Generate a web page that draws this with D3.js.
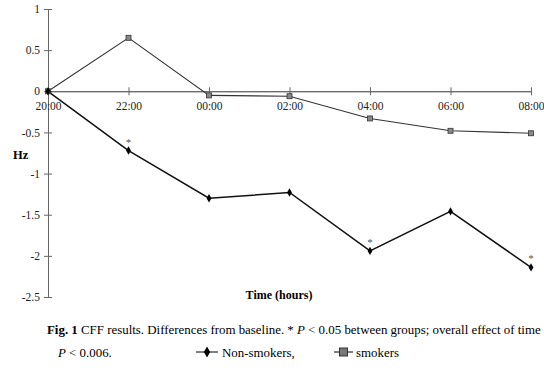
<!DOCTYPE html>
<html>
<head>
<meta charset="utf-8">
<script src="https://cdn.jsdelivr.net/npm/d3@7"></script>
<style>
  body { margin: 0; background: #fff; }
  svg, svg text { font-family: "Liberation Serif", "Times New Roman", serif; }
</style>
</head>
<body>
<svg id="chart" width="544" height="368"></svg>
<script>
const times = ["20:00", "22:00", "00:00", "02:00", "04:00", "06:00", "08:00"];
const nonSmokers = [0, -0.72, -1.30, -1.23, -1.94, -1.46, -2.14];
const smokers = [0, 0.65, -0.05, -0.06, -0.33, -0.48, -0.51];
const starred = ["22:00", "04:00", "08:00"];
const yTicks = [1, 0.5, 0, -0.5, -1, -1.5, -2, -2.5];

const serif = "'Liberation Serif', 'Times New Roman', serif";
const svg = d3.select("#chart");
const plotLeft = 48, plotRight = 531, plotTop = 9, plotBottom = 297;

const x = d3.scalePoint().domain(times).range([plotLeft, plotRight]);
const y = d3.scaleLinear().domain([-2.5, 1]).range([plotBottom, plotTop]);

// y axis
const yAxis = svg.append("g").attr("transform", `translate(${plotLeft},0)`)
  .call(d3.axisLeft(y).tickValues(yTicks).tickSize(0).tickPadding(8)
    .tickFormat(d => String(d)));
yAxis.attr("font-family", serif);
yAxis.select(".domain").attr("stroke", "#666");
yAxis.selectAll("text").attr("font-size", 11.5).attr("fill", "#222");
yAxis.selectAll(".tick").append("line")
  .attr("x1", -4).attr("x2", 4).attr("stroke", "#666");

// x axis at zero
const xAxis = svg.append("g").attr("transform", `translate(0,${y(0)})`)
  .call(d3.axisBottom(x).tickSize(0).tickPadding(11));
xAxis.attr("font-family", serif);
xAxis.select(".domain").attr("stroke", "#333");
xAxis.selectAll("text").attr("font-size", 11.5).attr("fill", "#222");
xAxis.selectAll(".tick").append("line")
  .attr("y1", -4).attr("y2", 4).attr("stroke", "#666");

const line = d3.line().x((d, i) => x(times[i])).y(d => y(d));

svg.append("path").datum(smokers).attr("d", line)
  .attr("fill", "none").attr("stroke", "#333").attr("stroke-width", 1.1);
svg.append("path").datum(nonSmokers).attr("d", line)
  .attr("fill", "none").attr("stroke", "#111").attr("stroke-width", 1.5);

svg.selectAll(".sq").data(smokers).enter().append("rect")
  .attr("x", (d, i) => x(times[i]) - 2.5).attr("y", d => y(d) - 2.5)
  .attr("width", 5).attr("height", 5)
  .attr("fill", "#888").attr("stroke", "#333").attr("stroke-width", 0.8);

const diamond = d3.symbol().type(d3.symbolDiamond).size(20);
svg.selectAll(".dm").data(nonSmokers).enter().append("path")
  .attr("d", diamond)
  .attr("transform", (d, i) => `translate(${x(times[i])},${y(d)})`)
  .attr("fill", "#000");

// significance stars
svg.selectAll(".star").data(starred).enter().append("text")
  .attr("x", d => x(d))
  .attr("y", d => y(nonSmokers[times.indexOf(d)]) - 5)
  .attr("text-anchor", "middle").attr("font-size", 11).attr("fill", "#555")
  .text("*");

svg.append("text").attr("x", 13).attr("y", 159)
  .attr("font-size", 12.5).attr("font-weight", "bold").text("Hz");

svg.append("text").attr("x", 279).attr("y", 299).attr("text-anchor", "middle")
  .attr("font-size", 12).attr("font-weight", "bold").text("Time (hours)");

// caption
const cap1 = svg.append("text").attr("x", 47).attr("y", 334).attr("font-size", 12.9);
cap1.append("tspan").attr("font-weight", "bold").text("Fig. 1");
cap1.append("tspan").text("  CFF results. Differences from baseline. * ");
cap1.append("tspan").attr("font-style", "italic").text("P");
cap1.append("tspan").text(" < 0.05 between groups; overall effect of time");

const cap2 = svg.append("text").attr("x", 58).attr("y", 357).attr("font-size", 12.9);
cap2.append("tspan").attr("font-style", "italic").text("P");
cap2.append("tspan").text(" < 0.006.");

// legend
const lg = svg.append("g").attr("transform", "translate(196,352)");
lg.append("line").attr("x1", 0).attr("x2", 22).attr("stroke", "#000");
lg.append("path").attr("d", d3.symbol().type(d3.symbolDiamond).size(34)())
  .attr("transform", "translate(11,0)").attr("fill", "#000");
lg.append("text").attr("x", 26).attr("y", 5).attr("font-size", 12.9).text("Non-smokers,");
lg.append("line").attr("x1", 138).attr("x2", 157).attr("stroke", "#000");
lg.append("rect").attr("x", 143.5).attr("y", -4).attr("width", 8).attr("height", 8)
  .attr("fill", "#777").attr("stroke", "#333");
lg.append("text").attr("x", 160).attr("y", 5).attr("font-size", 12.9).text("smokers");
</script>
</body>
</html>
